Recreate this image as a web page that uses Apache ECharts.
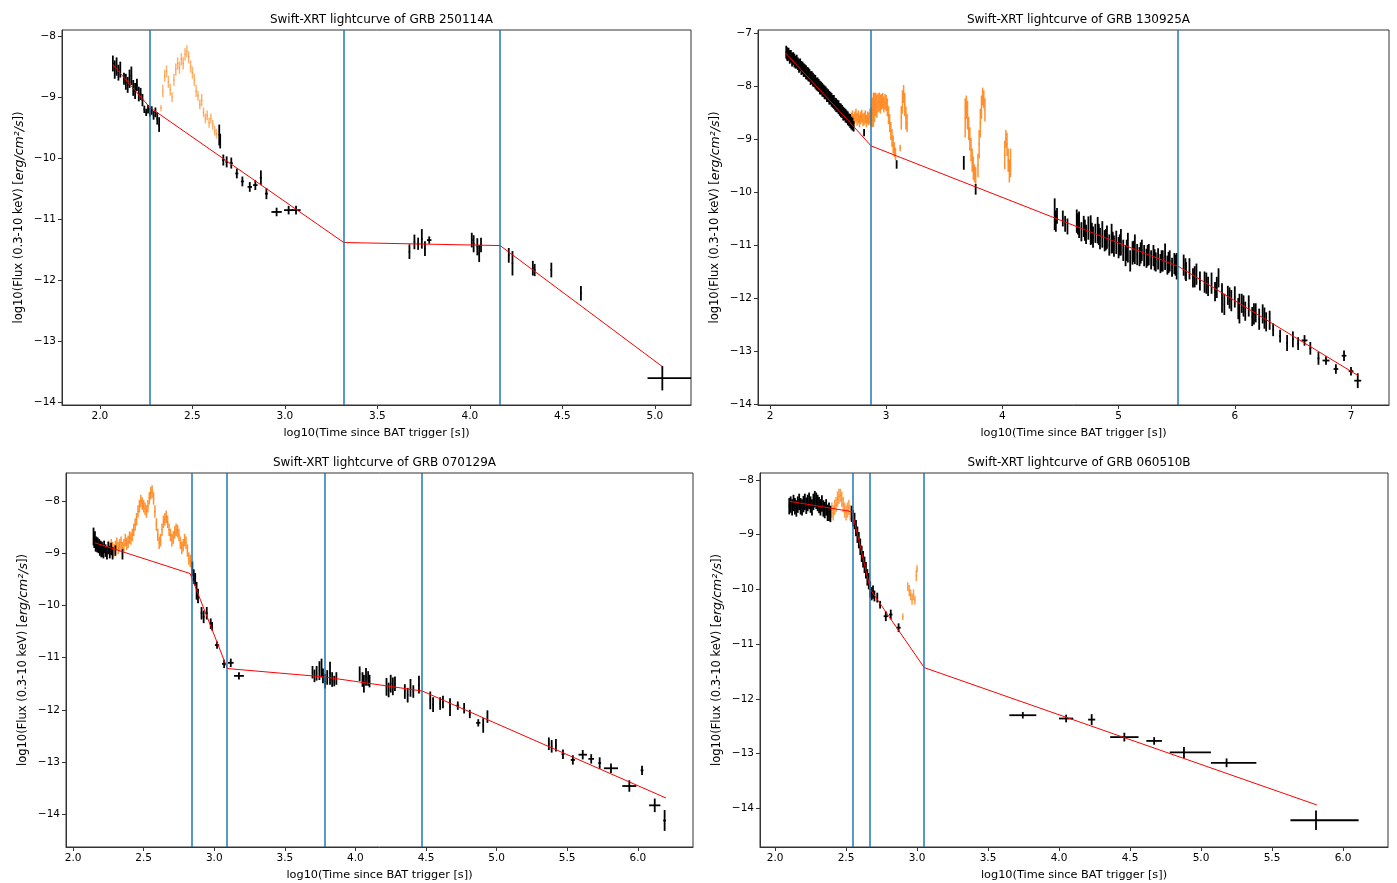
<!DOCTYPE html>
<html><head><meta charset="utf-8">
<script src="https://cdn.jsdelivr.net/npm/echarts@6/dist/echarts.min.js"></script>
<style>html,body{margin:0;padding:0;background:#fff}#c{width:1397px;height:883px}</style>
</head><body><div id="c"></div>
<script>
// ---------- Panel titles ----------
const titles = ['Swift-XRT lightcurve of GRB 250114A','Swift-XRT lightcurve of GRB 130925A','Swift-XRT lightcurve of GRB 070129A','Swift-XRT lightcurve of GRB 060510B'];
// ---------- Tick labels ----------
const xTicks1 = [2.0,2.5,3.0,3.5,4.0,4.5,5.0];
const xTicks2 = [2,3,4,5,6,7];
const xTicks3 = [2.0,2.5,3.0,3.5,4.0,4.5,5.0,5.5,6.0];
const xTicks4 = [2.0,2.5,3.0,3.5,4.0,4.5,5.0,5.5,6.0];
const yTicks1 = [-8,-9,-10,-11,-12,-13,-14];
const yTicks2 = [-7,-8,-9,-10,-11,-12,-13,-14];
const yTicks3 = [-8,-9,-10,-11,-12,-13,-14];
const yTicks4 = [-8,-9,-10,-11,-12,-13,-14];

// ---------- GRB 250114A ----------  [logT, logF, xerr, yerr]
const p1Black = [[2.07,-8.45,0.004,0.13],[2.08,-8.55,0.004,0.15],[2.09,-8.5,0.004,0.15],[2.10,-8.6,0.004,0.13],[2.11,-8.55,0.004,0.13],[2.13,-8.7,0.004,0.1],[2.14,-8.75,0.004,0.13],[2.15,-8.8,0.004,0.13],[2.16,-8.7,0.004,0.15],[2.17,-8.65,0.004,0.15],[2.18,-8.85,0.004,0.13],[2.19,-8.9,0.004,0.13],[2.20,-8.8,0.004,0.1],[2.21,-8.95,0.004,0.12],[2.22,-8.95,0.004,0.1],[2.23,-9.05,0.004,0.1],[2.24,-9.2,0.004,0.06],[2.25,-9.25,0.004,0.06],[2.26,-9.2,0.004,0.07],[2.27,-9.25,0.004,0.07],[2.28,-9.22,0.004,0.07],[2.29,-9.3,0.004,0.07],[2.30,-9.25,0.004,0.08],[2.31,-9.35,0.004,0.1],[2.32,-9.45,0.004,0.12],
[2.645,-9.62,0.003,0.17],[2.65,-9.72,0.003,0.12],[2.667,-10.03,0.006,0.09],[2.685,-10.06,0.006,0.09],[2.71,-10.08,0.008,0.09],[2.74,-10.25,0.008,0.08],[2.77,-10.38,0.008,0.08],[2.81,-10.47,0.012,0.08],[2.84,-10.44,0.012,0.08],[2.87,-10.32,0.006,0.12],[2.90,-10.58,0.008,0.09],[2.955,-10.88,0.028,0.07],[3.02,-10.85,0.025,0.07],[3.06,-10.85,0.025,0.07],
[3.673,-11.53,0.004,0.12],[3.70,-11.37,0.004,0.12],[3.72,-11.40,0.006,0.1],[3.74,-11.32,0.004,0.16],[3.757,-11.48,0.004,0.12],[3.78,-11.34,0.012,0.06],
[4.01,-11.34,0.004,0.12],[4.02,-11.40,0.004,0.14],[4.04,-11.45,0.004,0.14],[4.05,-11.56,0.004,0.14],[4.06,-11.42,0.004,0.12],
[4.21,-11.59,0.004,0.12],[4.23,-11.72,0.004,0.2],[4.34,-11.80,0.004,0.12],[4.35,-11.83,0.004,0.1],[4.44,-11.83,0.004,0.12],[4.60,-12.21,0.004,0.12]];
const p1BlackAsym = [[5.04,-13.6,0.08,0.25,0.2]]; // [logT, logF, xlo, xhi, yerr]
const p1Orange = [[2.33,-9.18,0.003,0.05],[2.34,-8.9,0.003,0.1],[2.35,-8.65,0.003,0.1],[2.36,-8.58,0.003,0.1],[2.37,-8.75,0.003,0.1],[2.38,-8.88,0.003,0.1],[2.39,-9.0,0.003,0.08],[2.40,-8.72,0.003,0.1],[2.41,-8.55,0.003,0.1],[2.42,-8.45,0.003,0.1],[2.43,-8.52,0.003,0.1],[2.44,-8.38,0.003,0.1],[2.45,-8.45,0.003,0.1],[2.46,-8.3,0.003,0.1],[2.47,-8.25,0.003,0.1],[2.48,-8.35,0.003,0.1],[2.49,-8.5,0.003,0.1],[2.50,-8.6,0.003,0.1],[2.51,-8.72,0.003,0.1],[2.52,-8.9,0.003,0.1],[2.53,-8.98,0.003,0.08],[2.54,-9.12,0.003,0.08],[2.55,-9.05,0.003,0.1],[2.56,-9.25,0.003,0.08],[2.57,-9.35,0.003,0.08],[2.58,-9.3,0.003,0.08],[2.59,-9.42,0.003,0.08],[2.60,-9.35,0.003,0.08],[2.61,-9.45,0.003,0.08],[2.62,-9.55,0.003,0.08],[2.63,-9.6,0.003,0.08]];
const p1Fit = [[2.07,-8.47],[2.27,-9.17],[3.318,-11.38],[4.163,-11.43],[5.04,-13.41]];
const p1Breaks = [2.27,3.316,4.162];

// ---------- GRB 130925A ----------
const p2Black = [[2.14,-7.36,0.004,0.12],[2.145,-7.40,0.004,0.1],[2.15,-7.40,0.004,0.13],[2.16,-7.40,0.004,0.12],[2.17,-7.45,0.004,0.13],[2.18,-7.44,0.004,0.12],[2.19,-7.50,0.004,0.13],[2.20,-7.48,0.004,0.12],[2.21,-7.52,0.004,0.13],[2.22,-7.55,0.004,0.12],[2.23,-7.54,0.004,0.13],[2.24,-7.58,0.004,0.12],[2.25,-7.62,0.004,0.13],[2.26,-7.60,0.004,0.12],[2.27,-7.66,0.004,0.13],[2.28,-7.66,0.004,0.12],[2.29,-7.70,0.004,0.13],[2.30,-7.71,0.004,0.12],[2.31,-7.74,0.004,0.13],[2.32,-7.76,0.004,0.12],[2.33,-7.78,0.004,0.13],[2.34,-7.80,0.004,0.12],[2.35,-7.85,0.004,0.13],[2.36,-7.84,0.004,0.12],[2.37,-7.88,0.004,0.13],[2.38,-7.90,0.004,0.12],[2.39,-7.92,0.004,0.13],[2.40,-7.96,0.004,0.12],[2.41,-7.97,0.004,0.13],[2.42,-7.99,0.004,0.12],[2.43,-8.03,0.004,0.13],[2.44,-8.04,0.004,0.12],[2.45,-8.07,0.004,0.13],[2.46,-8.09,0.004,0.12],[2.47,-8.12,0.004,0.13],[2.48,-8.13,0.004,0.12],[2.49,-8.17,0.004,0.13],[2.50,-8.18,0.004,0.12],[2.51,-8.22,0.004,0.13],[2.52,-8.23,0.004,0.12],[2.53,-8.26,0.004,0.13],[2.54,-8.29,0.004,0.12],[2.55,-8.30,0.004,0.13],[2.56,-8.34,0.004,0.12],[2.57,-8.36,0.004,0.13],[2.58,-8.38,0.004,0.12],[2.59,-8.40,0.004,0.13],[2.60,-8.44,0.004,0.12],[2.61,-8.46,0.004,0.13],[2.62,-8.48,0.004,0.12],[2.63,-8.52,0.004,0.13],[2.64,-8.53,0.004,0.12],[2.65,-8.56,0.004,0.13],[2.66,-8.58,0.004,0.12],[2.67,-8.61,0.004,0.13],[2.68,-8.64,0.004,0.12],[2.69,-8.66,0.004,0.13],[2.70,-8.70,0.004,0.12],[2.71,-8.72,0.004,0.12],[2.72,-8.76,0.004,0.1],
[2.81,-8.88,0.003,0.07],[3.09,-9.48,0.003,0.08],[3.668,-9.45,0.003,0.13],[3.77,-9.95,0.003,0.1],
[4.45,-10.42,0.004,0.3],[4.46,-10.55,0.004,0.2],[4.47,-10.45,0.004,0.15],[4.52,-10.5,0.004,0.15],[4.54,-10.6,0.004,0.15],[4.56,-10.65,0.004,0.15],
[4.64,-10.55,0.004,0.22],[4.65,-10.6,0.004,0.2],[4.66,-10.62,0.004,0.25],[4.68,-10.75,0.004,0.18],[4.70,-10.65,0.004,0.2],[4.71,-10.72,0.004,0.2],[4.72,-10.80,0.004,0.18],[4.74,-10.68,0.004,0.22],[4.76,-10.72,0.004,0.28],[4.77,-10.78,0.004,0.2],[4.78,-10.85,0.004,0.2],[4.80,-10.78,0.004,0.18],[4.82,-10.72,0.004,0.25],[4.83,-10.8,0.004,0.2],[4.84,-10.88,0.004,0.2],[4.86,-10.80,0.004,0.25],[4.88,-10.92,0.004,0.2],[4.89,-10.9,0.004,0.2],[4.90,-10.85,0.004,0.22],[4.92,-11.0,0.004,0.2],[4.94,-10.88,0.004,0.28],[4.95,-10.95,0.004,0.2],[4.96,-11.02,0.004,0.2],[4.98,-10.95,0.004,0.22],[5.00,-11.05,0.004,0.2],[5.01,-11.0,0.004,0.2],[5.02,-10.95,0.004,0.25],[5.04,-11.10,0.004,0.2],[5.06,-11.20,0.004,0.2],[5.07,-11.1,0.004,0.2],[5.08,-11.05,0.004,0.28],[5.10,-11.30,0.004,0.2],[5.12,-11.15,0.004,0.22],[5.13,-11.12,0.004,0.2],[5.14,-11.08,0.004,0.28],[5.16,-11.18,0.004,0.2],[5.18,-11.22,0.004,0.18],[5.19,-11.15,0.004,0.2],[5.20,-11.10,0.004,0.2],[5.22,-11.20,0.004,0.2],[5.24,-11.25,0.004,0.18],[5.25,-11.2,0.004,0.2],[5.26,-11.18,0.004,0.2],[5.28,-11.28,0.004,0.18],[5.30,-11.20,0.004,0.2],[5.31,-11.28,0.004,0.2],[5.32,-11.32,0.004,0.18],[5.34,-11.26,0.004,0.2],[5.36,-11.35,0.004,0.18],[5.37,-11.3,0.004,0.2],[5.38,-11.30,0.004,0.2],[5.40,-11.22,0.004,0.25],[5.42,-11.38,0.004,0.18],[5.43,-11.33,0.004,0.2],[5.44,-11.30,0.004,0.2],[5.46,-11.42,0.004,0.18],[5.48,-11.35,0.004,0.2],[5.49,-11.38,0.004,0.2],[5.50,-11.40,0.004,0.25],
[5.56,-11.38,0.004,0.2],[5.575,-11.45,0.004,0.2],[5.58,-11.50,0.004,0.18],[5.61,-11.45,0.004,0.2],[5.64,-11.62,0.004,0.18],[5.655,-11.6,0.004,0.2],[5.67,-11.55,0.004,0.2],[5.70,-11.68,0.004,0.18],[5.74,-11.70,0.004,0.2],[5.755,-11.72,0.004,0.2],[5.77,-11.78,0.004,0.18],[5.80,-11.72,0.004,0.2],[5.83,-11.88,0.004,0.18],[5.845,-11.8,0.004,0.2],[5.86,-11.62,0.004,0.18],[5.89,-12.0,0.004,0.28],[5.91,-12.12,0.004,0.2],[5.94,-11.95,0.004,0.18],[5.955,-12.0,0.004,0.2],[5.97,-12.05,0.004,0.2],[6.00,-11.98,0.004,0.2],[6.03,-12.2,0.004,0.2],[6.04,-12.2,0.004,0.28],[6.06,-12.10,0.004,0.18],[6.075,-12.15,0.004,0.2],[6.09,-12.25,0.004,0.18],[6.12,-12.15,0.004,0.2],[6.15,-12.35,0.004,0.18],[6.165,-12.3,0.004,0.2],[6.18,-12.28,0.004,0.18],[6.21,-12.40,0.004,0.2],[6.24,-12.30,0.004,0.18],[6.255,-12.38,0.004,0.2],[6.27,-12.45,0.004,0.18],[6.30,-12.42,0.004,0.18],[6.33,-12.60,0.004,0.12],
[6.39,-12.72,0.008,0.12],[6.45,-12.85,0.008,0.15],[6.50,-12.78,0.008,0.15],[6.545,-12.86,0.008,0.12],[6.60,-12.80,0.025,0.1],[6.65,-12.95,0.008,0.12],[6.72,-13.14,0.008,0.12],[6.785,-13.18,0.03,0.08],[6.87,-13.34,0.02,0.09],[6.94,-13.09,0.02,0.1],[7.00,-13.38,0.02,0.08],[7.058,-13.56,0.03,0.14]];
const p2Orange = [[2.70,-8.62,0.004,0.12],[2.71,-8.58,0.004,0.12],[2.72,-8.65,0.004,0.12],[2.73,-8.60,0.004,0.12],[2.74,-8.55,0.004,0.12],[2.75,-8.63,0.004,0.12],[2.76,-8.58,0.004,0.12],[2.77,-8.66,0.004,0.12],[2.78,-8.60,0.004,0.12],[2.79,-8.57,0.004,0.12],[2.80,-8.64,0.004,0.12],[2.81,-8.62,0.004,0.12],[2.82,-8.58,0.004,0.12],[2.83,-8.66,0.004,0.12],[2.84,-8.60,0.004,0.12],[2.85,-8.62,0.004,0.12],[2.86,-8.57,0.004,0.14],[2.87,-8.58,0.004,0.18],[2.88,-8.50,0.004,0.28],[2.89,-8.45,0.004,0.32],[2.90,-8.40,0.004,0.28],[2.91,-8.35,0.004,0.22],[2.92,-8.38,0.004,0.22],[2.93,-8.32,0.004,0.18],[2.94,-8.30,0.004,0.18],[2.95,-8.34,0.004,0.18],[2.96,-8.30,0.004,0.15],[2.97,-8.28,0.004,0.15],[2.98,-8.35,0.004,0.15],[2.99,-8.30,0.004,0.15],[3.00,-8.32,0.004,0.15],[3.01,-8.4,0.004,0.17],[3.02,-8.55,0.004,0.17],[3.03,-8.7,0.004,0.17],[3.04,-8.85,0.004,0.17],[3.05,-8.98,0.004,0.17],[3.06,-9.1,0.004,0.17],[3.07,-9.2,0.004,0.14],[3.08,-9.28,0.004,0.12],[3.12,-9.17,0.003,0.06],
[3.13,-8.6,0.004,0.22],[3.14,-8.3,0.004,0.22],[3.15,-8.15,0.004,0.17],[3.16,-8.35,0.004,0.22],[3.17,-8.6,0.004,0.22],[3.18,-8.7,0.004,0.17],
[3.68,-8.6,0.004,0.37],[3.69,-8.4,0.004,0.22],[3.70,-8.55,0.004,0.27],[3.71,-8.8,0.004,0.22],[3.72,-9.0,0.004,0.22],[3.73,-9.2,0.004,0.22],[3.74,-9.4,0.004,0.22],[3.75,-9.55,0.004,0.22],[3.76,-9.65,0.004,0.17],[3.77,-9.7,0.004,0.17],[3.79,-9.5,0.004,0.22],[3.80,-9.1,0.004,0.27],[3.81,-8.7,0.004,0.27],[3.82,-8.4,0.004,0.22],[3.83,-8.2,0.004,0.17],[3.84,-8.25,0.004,0.17],[3.85,-8.45,0.004,0.22],
[4.02,-9.3,0.004,0.27],[4.03,-9.0,0.004,0.17],[4.04,-9.1,0.004,0.22],[4.05,-9.4,0.004,0.22],[4.06,-9.6,0.004,0.22],[4.07,-9.45,0.004,0.27]];
const p2Fit = [[2.135,-7.38],[2.69,-8.69],[2.87,-9.13],[5.52,-11.41],[7.065,-13.47]];
const p2Breaks = [2.869,5.515];

// ---------- GRB 070129A ----------
const p3Black = [[2.145,-8.68,0.003,0.17],[2.15,-8.78,0.003,0.12],[2.155,-8.72,0.003,0.14],[2.16,-8.85,0.003,0.12],[2.165,-8.8,0.003,0.12],[2.17,-8.88,0.003,0.1],[2.175,-8.82,0.003,0.12],[2.18,-8.9,0.003,0.1],[2.185,-8.85,0.003,0.12],[2.19,-8.95,0.003,0.1],[2.195,-8.88,0.003,0.12],[2.20,-8.98,0.003,0.1],[2.205,-8.9,0.003,0.12],[2.21,-8.95,0.003,0.12],[2.215,-9.0,0.003,0.1],[2.22,-8.88,0.003,0.12],[2.23,-8.95,0.003,0.12],[2.24,-9.0,0.003,0.12],[2.25,-8.9,0.003,0.12],[2.26,-8.98,0.003,0.12],[2.27,-8.92,0.003,0.12],[2.28,-9.0,0.003,0.12],[2.30,-8.95,0.003,0.1],[2.35,-9.02,0.003,0.1],
[2.845,-9.3,0.004,0.14],[2.855,-9.45,0.004,0.14],[2.865,-9.5,0.004,0.12],[2.875,-9.72,0.004,0.17],[2.885,-9.82,0.004,0.14],[2.91,-10.15,0.006,0.12],[2.925,-10.22,0.006,0.12],[2.947,-10.15,0.006,0.12],[2.975,-10.35,0.006,0.1],[2.985,-10.4,0.006,0.08],[3.02,-10.76,0.015,0.07],[3.07,-11.12,0.015,0.08],[3.117,-11.1,0.02,0.08],[3.175,-11.35,0.035,0.07],
[3.696,-11.28,0.004,0.12],[3.71,-11.35,0.004,0.12],[3.725,-11.3,0.004,0.14],[3.745,-11.25,0.004,0.18],[3.76,-11.2,0.004,0.18],[3.77,-11.35,0.004,0.14],[3.785,-11.45,0.004,0.14],[3.80,-11.38,0.004,0.14],[3.82,-11.3,0.004,0.22],[3.835,-11.42,0.004,0.14],[3.85,-11.45,0.004,0.1],[3.865,-11.4,0.004,0.12],
[4.03,-11.31,0.004,0.14],[4.05,-11.42,0.004,0.14],[4.06,-11.5,0.004,0.17],[4.075,-11.37,0.004,0.17],[4.09,-11.4,0.004,0.14],[4.10,-11.45,0.004,0.12],
[4.22,-11.56,0.004,0.17],[4.235,-11.62,0.004,0.14],[4.25,-11.5,0.004,0.17],[4.265,-11.55,0.004,0.17],[4.28,-11.5,0.004,0.14],
[4.35,-11.65,0.004,0.14],[4.37,-11.72,0.004,0.14],[4.39,-11.58,0.004,0.17],[4.41,-11.65,0.004,0.12],[4.45,-11.52,0.004,0.17],
[4.53,-11.82,0.004,0.17],[4.55,-11.9,0.004,0.14],[4.60,-11.88,0.004,0.12],[4.62,-11.85,0.004,0.12],[4.67,-11.95,0.004,0.17],[4.725,-11.92,0.01,0.08],[4.77,-11.97,0.004,0.1],[4.81,-12.08,0.004,0.08],[4.87,-12.25,0.015,0.07],[4.905,-12.3,0.004,0.14],[4.935,-12.13,0.004,0.12],
[5.37,-12.65,0.004,0.12],[5.39,-12.7,0.004,0.12],[5.42,-12.68,0.004,0.12],[5.47,-12.85,0.01,0.09],[5.54,-12.96,0.015,0.09],[5.61,-12.86,0.03,0.09],[5.67,-12.94,0.02,0.09],[5.73,-13.02,0.01,0.11],[5.81,-13.12,0.05,0.09],[5.94,-13.46,0.05,0.11],[6.03,-13.16,0.01,0.09],[6.12,-13.83,0.04,0.13],[6.19,-14.12,0.01,0.2]];
const p3Orange = [[2.25,-8.88,0.004,0.12],[2.26,-8.92,0.004,0.12],[2.27,-8.85,0.004,0.12],[2.28,-8.9,0.004,0.12],[2.29,-8.95,0.004,0.12],[2.30,-8.88,0.004,0.12],[2.31,-8.82,0.004,0.12],[2.32,-8.9,0.004,0.12],[2.33,-8.85,0.004,0.12],[2.34,-8.8,0.004,0.12],[2.35,-8.9,0.004,0.12],[2.36,-8.85,0.004,0.12],[2.37,-8.75,0.004,0.12],[2.38,-8.82,0.004,0.12],[2.39,-8.78,0.004,0.12],[2.40,-8.7,0.004,0.12],[2.41,-8.72,0.004,0.12],[2.42,-8.65,0.004,0.12],[2.43,-8.55,0.004,0.12],[2.44,-8.45,0.004,0.12],[2.45,-8.35,0.004,0.12],[2.46,-8.2,0.004,0.12],[2.47,-8.1,0.004,0.12],[2.48,-8.0,0.004,0.12],[2.49,-8.05,0.004,0.12],[2.50,-8.1,0.004,0.12],[2.51,-8.15,0.004,0.12],[2.52,-8.2,0.004,0.12],[2.53,-8.1,0.004,0.12],[2.54,-7.95,0.004,0.12],[2.55,-7.85,0.004,0.12],[2.56,-7.82,0.004,0.12],[2.57,-7.95,0.004,0.12],[2.58,-8.2,0.004,0.12],[2.59,-8.45,0.004,0.12],[2.60,-8.65,0.004,0.12],[2.61,-8.8,0.004,0.12],[2.62,-8.75,0.004,0.12],[2.63,-8.55,0.004,0.12],[2.64,-8.4,0.004,0.12],[2.65,-8.35,0.004,0.12],[2.66,-8.3,0.004,0.12],[2.67,-8.4,0.004,0.12],[2.68,-8.55,0.004,0.12],[2.69,-8.65,0.004,0.12],[2.70,-8.75,0.004,0.12],[2.71,-8.7,0.004,0.12],[2.72,-8.6,0.004,0.12],[2.73,-8.55,0.004,0.12],[2.74,-8.58,0.004,0.12],[2.75,-8.65,0.004,0.12],[2.76,-8.8,0.004,0.12],[2.77,-8.9,0.004,0.12],[2.78,-8.85,0.004,0.12],[2.79,-8.75,0.004,0.12],[2.80,-8.8,0.004,0.12],[2.81,-8.95,0.004,0.12],[2.82,-9.1,0.004,0.12],[2.83,-9.15,0.004,0.12]];
const p3Fit = [[2.153,-8.80],[2.829,-9.39],[3.093,-11.21],[3.778,-11.37],[4.473,-11.64],[6.20,-13.69]];
const p3Breaks = [2.838,3.093,3.778,4.473];

// ---------- GRB 060510B ----------
const p4Black = [[2.10,-8.48,0.004,0.15],[2.11,-8.45,0.004,0.15],[2.12,-8.5,0.004,0.15],[2.13,-8.42,0.004,0.15],[2.14,-8.48,0.004,0.15],[2.15,-8.52,0.004,0.15],[2.16,-8.45,0.004,0.15],[2.17,-8.4,0.004,0.15],[2.18,-8.48,0.004,0.15],[2.19,-8.5,0.004,0.15],[2.20,-8.44,0.004,0.15],[2.21,-8.4,0.004,0.15],[2.22,-8.47,0.004,0.15],[2.23,-8.42,0.004,0.15],[2.24,-8.38,0.004,0.15],[2.25,-8.45,0.004,0.15],[2.26,-8.5,0.004,0.15],[2.27,-8.4,0.004,0.15],[2.28,-8.35,0.004,0.15],[2.29,-8.38,0.004,0.15],[2.30,-8.42,0.004,0.15],[2.31,-8.46,0.004,0.15],[2.32,-8.5,0.004,0.15],[2.33,-8.43,0.004,0.15],[2.34,-8.52,0.004,0.15],[2.35,-8.55,0.004,0.15],[2.36,-8.5,0.004,0.15],[2.37,-8.6,0.004,0.15],[2.38,-8.58,0.004,0.17],[2.39,-8.62,0.004,0.15],
[2.54,-8.62,0.004,0.15],[2.55,-8.7,0.004,0.15],[2.56,-8.75,0.004,0.15],[2.57,-8.88,0.004,0.15],[2.58,-9.0,0.004,0.15],[2.59,-9.1,0.004,0.15],[2.60,-9.22,0.004,0.15],[2.61,-9.35,0.004,0.15],[2.62,-9.45,0.004,0.15],[2.63,-9.55,0.004,0.15],[2.64,-9.65,0.004,0.15],[2.65,-9.78,0.004,0.15],[2.66,-9.85,0.004,0.15],[2.67,-10.0,0.004,0.15],[2.68,-10.08,0.004,0.12],[2.69,-10.05,0.004,0.12],[2.70,-10.12,0.004,0.1],
[2.72,-10.15,0.005,0.09],[2.74,-10.28,0.005,0.07],[2.78,-10.49,0.015,0.09],[2.815,-10.46,0.012,0.09],[2.87,-10.70,0.015,0.08]];
const p4BlackAsym = [[3.745,-12.3,0.095,0.095,0.06],[4.05,-12.36,0.05,0.05,0.07],[4.23,-12.38,0.025,0.025,0.1],[4.46,-12.7,0.1,0.1,0.08],[4.67,-12.77,0.055,0.055,0.07],[4.88,-12.98,0.1,0.19,0.1],[5.18,-13.17,0.11,0.21,0.08],[5.81,-14.22,0.18,0.30,0.18]];
const p4Orange = [[2.40,-8.55,0.004,0.14],[2.41,-8.6,0.004,0.14],[2.42,-8.5,0.004,0.14],[2.43,-8.45,0.004,0.14],[2.44,-8.35,0.004,0.14],[2.45,-8.3,0.004,0.14],[2.46,-8.28,0.004,0.12],[2.47,-8.35,0.004,0.14],[2.48,-8.45,0.004,0.14],[2.49,-8.55,0.004,0.14],[2.50,-8.6,0.004,0.14],[2.51,-8.55,0.004,0.14],[2.52,-8.5,0.004,0.14],[2.53,-8.6,0.004,0.14],
[2.90,-10.5,0.003,0.06],[2.935,-9.95,0.003,0.08],[2.945,-10.02,0.003,0.1],[2.955,-10.1,0.003,0.1],[2.965,-10.18,0.003,0.1],[2.975,-10.1,0.003,0.1],[2.985,-10.2,0.003,0.08],[2.995,-9.75,0.003,0.1],[3.0,-9.62,0.003,0.06]];
const p4Fit = [[2.103,-8.39],[2.543,-8.58],[2.671,-10.0],[3.051,-11.43],[5.815,-13.94]];
const p4Breaks = [2.552,2.671,3.051];

// ---------- layout ----------
const grids = [
  {left:62, top:30, width:629, height:375},
  {left:758, top:30, width:631, height:375},
  {left:66, top:473, width:627, height:374},
  {left:760, top:473, width:628, height:374}
];
const xRanges = [[1.795,5.195],[1.897,7.327],[1.950,6.391],[1.894,6.317]];
const yRanges = [[-14.039,-7.902],[-14.019,-6.943],[-14.628,-7.464],[-14.709,-7.872]];
const xTickSets = [xTicks1,xTicks2,xTicks3,xTicks4];
const yTickSets = [yTicks1,yTicks2,yTicks3,yTicks4];
const orangeAlpha = [0.6, 0.85, 0.85, 0.75];
const FONT = 'DejaVu Sans';
const minus = s => String(s).replace('-', '\u2212');

function errRender(color, width, opacity, asym){
  return function(params, api){
    const x = api.value(0), y = api.value(1);
    let xl, xh, ye;
    if (asym) { xl = api.value(2); xh = api.value(3); ye = api.value(4); }
    else { xl = api.value(2); xh = xl; ye = api.value(3); }
    const a = api.coord([x - xl, y]), b = api.coord([x + xh, y]);
    const c = api.coord([x, y - ye]), d = api.coord([x, y + ye]);
    const st = {stroke: color, lineWidth: width, opacity: opacity};
    return {type:'group', children:[
      {type:'line', shape:{x1:a[0], y1:a[1], x2:b[0], y2:b[1]}, style:st},
      {type:'line', shape:{x1:c[0], y1:c[1], x2:d[0], y2:d[1]}, style:st}
    ]};
  };
}
function errSeries(data, gi, color, width, opacity, asym, z){
  return {type:'custom', xAxisIndex:gi, yAxisIndex:gi, data:data, clip:true, z:z,
    encode:{x:0, y:1}, renderItem: errRender(color, width, opacity, asym), silent:true};
}

const panels = [
  {black:p1Black, asym:p1BlackAsym, orange:p1Orange, fit:p1Fit, breaks:p1Breaks},
  {black:p2Black, asym:[], orange:p2Orange, fit:p2Fit, breaks:p2Breaks},
  {black:p3Black, asym:[], orange:p3Orange, fit:p3Fit, breaks:p3Breaks},
  {black:p4Black, asym:p4BlackAsym, orange:p4Orange, fit:p4Fit, breaks:p4Breaks}
];

const option = {
  animation:false,
  backgroundColor:'#ffffff',
  title: titles.map((t,i)=>({text:t, left: grids[i].left + grids[i].width/2, top: grids[i].top - 21,
    textAlign:'center', textStyle:{fontFamily:FONT, fontSize:12, fontWeight:'normal', color:'#000'}})),
  grid: grids.map(g=>Object.assign({show:true, borderColor:'#333', borderWidth:1, containLabel:false}, g)),
  xAxis: grids.map((g,i)=>({type:'value', gridIndex:i, min:xRanges[i][0], max:xRanges[i][1],
    name:'log10(Time since BAT trigger [s])', nameLocation:'middle', nameGap:23,
    nameTextStyle:{fontFamily:FONT, fontSize:11.3, color:'#000'},
    axisLine:{show:true, onZero:false, lineStyle:{color:'#333', width:1}},
    axisTick:{show:true, length:4, lineStyle:{color:'#333'}, customValues:xTickSets[i]},
    axisLabel:{fontFamily:FONT, fontSize:10.5, color:'#000', margin:6, customValues:xTickSets[i],
      formatter: v => i===1 ? String(Math.round(v)) : Number(v).toFixed(1)},
    splitLine:{show:false}})),
  yAxis: grids.map((g,i)=>({type:'value', gridIndex:i, min:yRanges[i][0], max:yRanges[i][1],
    name:'{n|log10(Flux (0.3-10 keV) [}{it|erg/cm\u00B2/s}{n|])}', nameLocation:'middle', nameGap:36, nameRotate:90,
    nameTextStyle:{fontFamily:FONT, fontSize:11.5, color:'#000',
      rich:{n:{fontFamily:FONT, fontSize:11.5, color:'#000'}, it:{fontFamily:FONT, fontSize:12.5, fontStyle:'italic', color:'#000'}}},
    axisLine:{show:true, onZero:false, lineStyle:{color:'#333', width:1}},
    axisTick:{show:true, length:4, lineStyle:{color:'#333'}, customValues:yTickSets[i]},
    axisLabel:{fontFamily:FONT, fontSize:10.5, color:'#000', margin:6, customValues:yTickSets[i],
      formatter: v => minus(Math.round(v))},
    splitLine:{show:false}})),
  series: []
};
panels.forEach((p,i)=>{
  option.series.push(errSeries(p.orange, i, '#ff7f0e', 1.5, orangeAlpha[i], false, 2));
  option.series.push(errSeries(p.black, i, '#000000', 1.8, 1, false, 3));
  if (p.asym.length) option.series.push(errSeries(p.asym, i, '#000000', 1.8, 1, true, 3));
  option.series.push({type:'line', xAxisIndex:i, yAxisIndex:i, data:p.fit, showSymbol:false, symbol:'none', z:4, silent:true,
    lineStyle:{color:'#ff0000', width:1}, clip:true,
    markLine:{silent:true, symbol:['none','none'], label:{show:false}, animation:false,
      lineStyle:{color:'#1f77b4', width:1.5, type:'solid'}, emphasis:{disabled:true},
      data:p.breaks.map(v=>({xAxis:v}))}});
});
const chart = echarts.init(document.getElementById('c'), null, {renderer:'canvas'});
chart.setOption(option);
</script></body></html>
